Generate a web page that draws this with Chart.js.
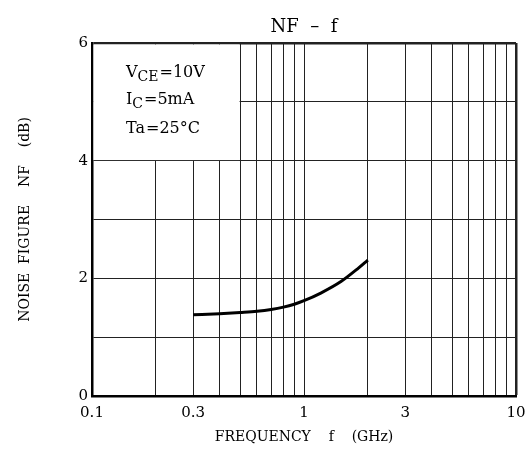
<!DOCTYPE html>
<html>
<head>
<meta charset="utf-8">
<script src="https://cdn.jsdelivr.net/npm/chart.js@4/dist/chart.umd.min.js"></script>
<style>
  html, body { margin: 0; padding: 0; background: #fff; }
  #wrap { width: 526px; height: 452px; }
</style>
</head>
<body>
<div id="wrap"><canvas id="c" width="526" height="452"></canvas></div>
<script>
// Data
const frequencyGHz = [0.3, 0.4, 0.5, 0.6, 0.7, 0.8, 0.9, 1.0, 1.2, 1.5, 1.8, 2.0];
const noiseFigureDB = [1.38, 1.40, 1.42, 1.44, 1.47, 1.51, 1.56, 1.62, 1.75, 1.95, 2.17, 2.31];
const xGridValues = [0.1, 0.2, 0.3, 0.4, 0.5, 0.6, 0.7, 0.8, 0.9, 1, 2, 3, 4, 5, 6, 7, 8, 9, 10];
const xTickLabels = [0.1, 0.3, 1, 3, 10];
const yGridValues = [0, 1, 2, 3, 4, 5, 6];
const yTickLabels = [0, 2, 4, 6];
const chartTitle = 'NF  –  f';
const conditionLines = [
  { main: 'V', sub: 'CE', rest: '=10V' },
  { main: 'I', sub: 'C', rest: '=5mA' },
  { main: 'Ta', sub: '', rest: '=25°C' }
];

const SERIF = '"DejaVu Serif", "Liberation Serif", serif';

const boxPlugin = {
  id: 'condBox',
  beforeDatasetsDraw(chart) {
    const { ctx, scales: { x, y } } = chart;
    const l = x.getPixelForValue(0.1) + 1.5;
    const r = x.getPixelForValue(0.5) - 0.6;
    const t = y.getPixelForValue(6) + 1.5;
    const b = y.getPixelForValue(4) - 0.6;
    ctx.save();
    ctx.fillStyle = '#fff';
    ctx.fillRect(l, t, r - l, b - t);
    ctx.restore();
  },
  afterDraw(chart) {
    const { ctx, chartArea } = chart;
    ctx.save();
    ctx.fillStyle = '#000';
    // title centred over the plot area
    ctx.font = '18px ' + SERIF;
    ctx.textAlign = 'center';
    ctx.textBaseline = 'alphabetic';
    ctx.fillText(chartTitle, (chartArea.left + chartArea.right) / 2, 32);
    // conditions box text
    ctx.textAlign = 'left';
    const x0 = 126;
    const baselines = [77, 104, 133];
    conditionLines.forEach((ln, i) => {
      let xx = x0;
      const yb = baselines[i];
      ctx.font = '16px ' + SERIF;
      ctx.fillText(ln.main, xx, yb);
      xx += ctx.measureText(ln.main).width;
      if (ln.sub) {
        ctx.font = '14px ' + SERIF;
        ctx.fillText(ln.sub, xx, yb + 4);
        xx += ctx.measureText(ln.sub).width;
      }
      ctx.font = '16px ' + SERIF;
      ctx.fillText(ln.rest, xx + 1, yb);
    });
    ctx.restore();
  }
};

new Chart(document.getElementById('c'), {
  type: 'line',
  data: {
    datasets: [{
      data: frequencyGHz.map((f, i) => ({ x: f, y: noiseFigureDB[i] })),
      borderColor: '#000',
      borderWidth: 3,
      pointRadius: 0,
      fill: false,
      cubicInterpolationMode: 'monotone'
    }]
  },
  options: {
    responsive: false,
    animation: false,
    devicePixelRatio: 1,
    layout: { padding: { left: 0, right: 10, top: 43, bottom: 0 } },
    plugins: {
      legend: { display: false },
      tooltip: { enabled: false },
      title: { display: false }
    },
    scales: {
      x: {
        type: 'logarithmic',
        min: 0.1,
        max: 10,
        afterBuildTicks(scale) { scale.ticks = xGridValues.map(v => ({ value: v })); },
        afterFit(scale) {
          scale.height = 56;
          scale.paddingLeft = 0;
          scale.paddingRight = 0;
        },
        ticks: {
          autoSkip: false,
          maxRotation: 0,
          padding: 8,
          color: '#000',
          font: { family: SERIF, size: 15 },
          callback(v) { return xTickLabels.includes(Number(v)) ? String(v) : ''; }
        },
        grid: {
          drawTicks: false,
          color: '#222',
          lineWidth: ctx => (ctx.tick && ctx.tick.value === 10 ? 2.5 : 1)
        },
        border: { display: true, color: '#000', width: 2.5 },
        title: {
          display: true,
          text: 'FREQUENCY    f    (GHz)',
          color: '#000',
          font: { family: SERIF, size: 14 },
          padding: { top: 0, bottom: 6 }
        }
      },
      y: {
        type: 'linear',
        min: 0,
        max: 6,
        afterBuildTicks(scale) { scale.ticks = yGridValues.map(v => ({ value: v })); },
        afterFit(scale) {
          scale.width = 92;
          scale.paddingTop = 0;
          scale.paddingBottom = 0;
        },
        ticks: {
          autoSkip: false,
          padding: 4,
          color: '#000',
          font: { family: SERIF, size: 15 },
          callback(v) { return yTickLabels.includes(Number(v)) ? String(v) : ''; }
        },
        grid: {
          drawTicks: false,
          color: '#222',
          lineWidth: ctx => (ctx.tick && ctx.tick.value === 6 ? 2.5 : 1)
        },
        border: { display: true, color: '#000', width: 2.5 },
        title: {
          display: true,
          text: 'NOISE  FIGURE    NF    (dB)',
          color: '#000',
          font: { family: SERIF, size: 14 },
          padding: { top: 17, bottom: 0 }
        }
      }
    }
  },
  plugins: [boxPlugin]
});
</script>
</body>
</html>
